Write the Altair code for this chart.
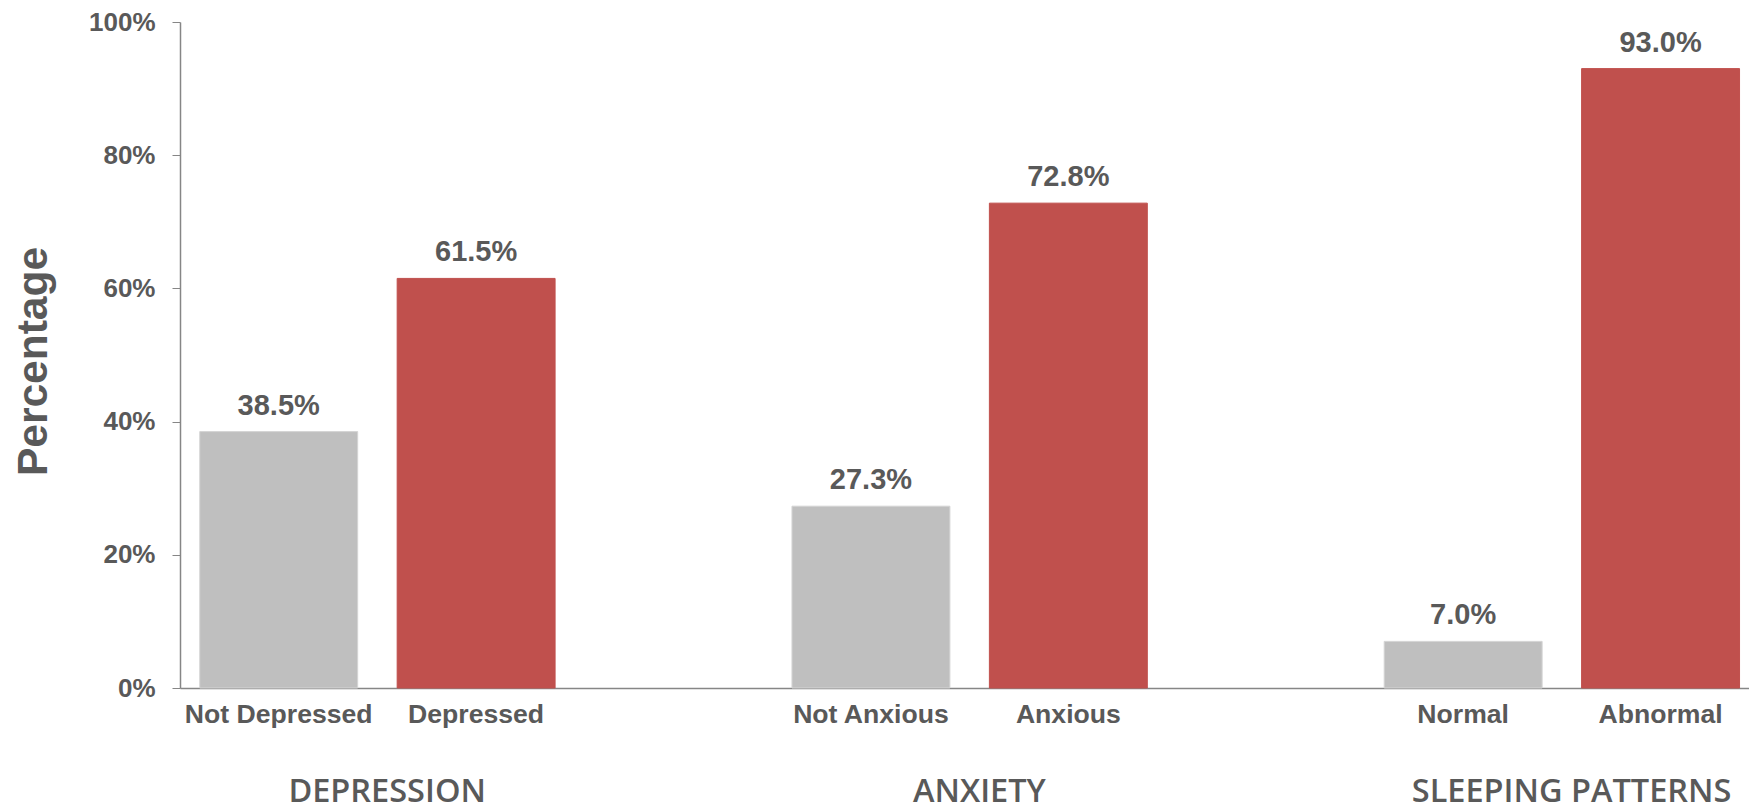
import altair as alt
import pandas as pd

# ---- data ----
labels = ["Not Depressed", "Depressed", "Not Anxious", "Anxious", "Normal", "Abnormal"]
values = [38.5, 61.5, 27.3, 72.8, 7.0, 93.0]
status = ["neg", "pos", "neg", "pos", "neg", "pos"]
groups = ["DEPRESSION", "ANXIETY", "SLEEPING PATTERNS"]
group_anchor = ["Depressed", "Anxious", "Abnormal"]
x_domain = ["Not Depressed", "Depressed", " ", "Not Anxious", "Anxious", "  ", "Normal", "Abnormal"]
y_ticks = [0, 20, 40, 60, 80, 100]

TEXT = "#595959"
AXIS = "#868686"
FONT = "Liberation Sans"

bars_df = pd.DataFrame({
    "label": labels,
    "value": values,
    "status": status,
    "text": [f"{v:.1f}%" for v in values],
})
groups_df = pd.DataFrame({"label": group_anchor, "group": groups})

xscale = alt.Scale(domain=x_domain, paddingInner=0.2, paddingOuter=0.074, align=0.676)
yscale = alt.Scale(domain=[0, 100])

x_enc = alt.X(
    "label:N",
    scale=xscale,
    sort=x_domain,
    axis=alt.Axis(
        title=None,
        ticks=False,
        tickSize=0,
        labelPadding=13,
        labelFont=FONT,
        labelFontSize=26.6,
        labelFontWeight="bold",
        labelColor=TEXT,
        labelLimit=0,
        labelAngle=0,
        domainColor=AXIS,
        domainWidth=1.5,
    ),
)

y_enc = alt.Y(
    "value:Q",
    scale=yscale,
    axis=alt.Axis(
        values=y_ticks,
        labelExpr="datum.value + '%'",
        grid=False,
        tickSize=8,
        tickColor=AXIS,
        domainColor=AXIS,
        domainWidth=1.5,
        labelPadding=17,
        labelFont=FONT,
        labelFontSize=26,
        labelFontWeight="bold",
        labelColor=TEXT,
        title="Percentage",
        titleFont=FONT,
        titleFontSize=42.5,
        titleFontWeight="bold",
        titleColor=TEXT,
        titleAngle=270,
        titleBaseline="alphabetic",
        titleAlign="center",
        titleX=-134,
        titleY=339,
    ),
)

color_scale = alt.Scale(domain=["neg", "pos"], range=["#BFBFBF", "#C0504D"])
stroke_scale = alt.Scale(domain=["neg", "pos"], range=["#D4D4D4", "#C0504D"])

bars = alt.Chart(bars_df).mark_bar(strokeWidth=1).encode(
    x=x_enc,
    y=y_enc,
    color=alt.Color("status:N", scale=color_scale, legend=None),
    stroke=alt.Stroke("status:N", scale=stroke_scale, legend=None),
)

value_text = alt.Chart(bars_df).mark_text(
    font=FONT, fontSize=29, fontWeight="bold", color=TEXT,
    baseline="alphabetic", dy=-17,
).encode(
    x=alt.X("label:N", scale=xscale, sort=x_domain),
    y=alt.Y("value:Q", scale=yscale),
    text="text:N",
)

group_text = alt.Chart(groups_df).mark_text(
    font="Open Sans", fontSize=32.5, fontWeight=600, color=TEXT,
    baseline="alphabetic", align="center", dx=-10,
).encode(
    x=alt.X("label:N", scale=xscale, sort=x_domain, bandPosition=0),
    y=alt.value(780),
    text="group:N",
)

chart = alt.layer(bars, value_text, group_text).properties(
    width=1569,
    height=666,
    autosize=alt.AutoSizeParams(type="none"),
    padding={"left": 180, "top": 22, "right": 0, "bottom": 119},
    background="white",
).configure_view(strokeWidth=0)

chart.save("out.html", embed_options={"renderer": "svg", "actions": False})
